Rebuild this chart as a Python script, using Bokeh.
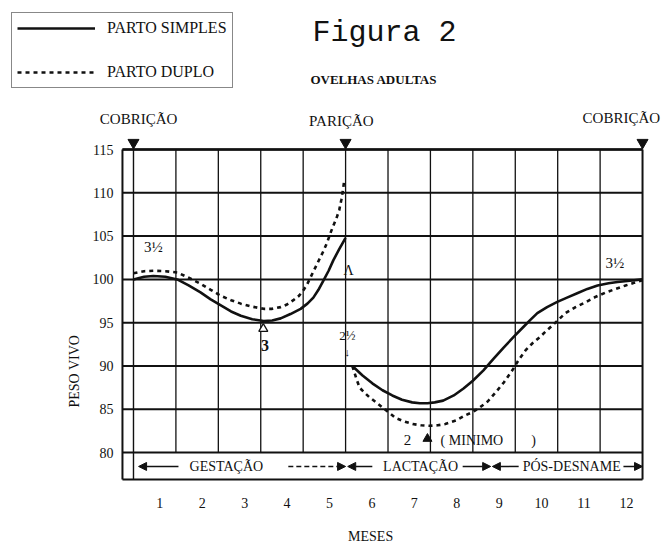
import math
from bokeh.plotting import figure
from bokeh.models import (Range1d, FixedTicker, Label, Legend, LegendItem, Arrow,
                          NormalHead, LinearAxis, CustomJSTickFormatter)
from bokeh.embed import file_html
from bokeh.resources import INLINE

# ---------------- data ----------------
months = list(range(1, 13))
month_labels = [str(m) for m in months]
y_ticks = [80, 85, 90, 95, 100, 105, 110, 115]

# Gestação (meses 0-5)
gest_x_simples = [0, 0.25, 0.47, 0.75, 1.03, 1.3, 1.58, 1.82, 2.06, 2.3, 2.53, 2.8, 3.07,
                  3.27, 3.47, 3.7, 3.94, 4.1, 4.24, 4.36, 4.48, 4.6, 4.71, 4.85, 5.0]
gest_y_simples = [100.0, 100.3, 100.4, 100.3, 100.0, 99.3, 98.5, 97.7, 97.0, 96.3, 95.8, 95.4, 95.2,
                  95.25, 95.5, 96.0, 96.6, 97.2, 97.9, 98.8, 99.9, 101.0, 102.2, 103.5, 104.8]

gest_x_duplo = [0, 0.25, 0.47, 0.75, 1.03, 1.3, 1.58, 1.82, 2.06, 2.3, 2.53, 2.8, 3.07, 3.27,
                3.47, 3.62, 3.77, 3.9, 4.0, 4.09, 4.17, 4.25, 4.33, 4.41, 4.48, 4.56, 4.64,
                4.71, 4.78, 4.85, 4.9, 4.94, 4.97]
gest_y_duplo = [100.7, 100.95, 101.0, 100.95, 100.8, 100.2, 99.5, 98.8, 98.1, 97.6, 97.2, 96.85, 96.6, 96.6,
                96.8, 97.1, 97.6, 98.1, 98.7, 99.4, 100.2, 101.0, 101.8, 102.6, 103.3, 104.2, 105.3,
                106.2, 107.0, 108.0, 109.2, 110.4, 111.5]

# Lactação + pós-desmame (meses 5-12)
lact_x_simples = [5.16, 5.4, 5.63, 5.87, 6.1, 6.33, 6.57, 6.75, 6.93, 7.1, 7.3, 7.55, 7.78, 8.0,
                  8.25, 8.48, 8.72, 8.95, 9.19, 9.35, 9.52, 9.75, 9.99, 10.22, 10.46, 10.7,
                  10.94, 11.2, 11.41, 11.7, 12.0]
lact_y_simples = [90.0, 88.9, 88.0, 87.2, 86.6, 86.1, 85.8, 85.7, 85.7, 85.8, 86.0, 86.6, 87.4, 88.3,
                  89.5, 90.8, 92.1, 93.3, 94.5, 95.3, 96.1, 96.8, 97.4, 97.9, 98.4, 98.9,
                  99.3, 99.55, 99.7, 99.85, 100.0]

lact_x_duplo = [5.16, 5.25, 5.33, 5.45, 5.56, 5.72, 5.87, 6.03, 6.18, 6.38, 6.58, 6.78, 6.98,
                7.17, 7.35, 7.6, 7.82, 8.0, 8.16, 8.35, 8.53, 8.73, 8.93, 9.08, 9.24, 9.4,
                9.57, 9.72, 9.88, 10.03, 10.18, 10.42, 10.67, 10.9, 11.14, 11.37, 11.6, 11.8, 12.0]
lact_y_duplo = [90.0, 88.6, 87.5, 86.9, 86.4, 85.8, 85.2, 84.6, 84.0, 83.6, 83.3, 83.15, 83.1,
                83.15, 83.3, 83.7, 84.3, 84.7, 85.2, 85.9, 86.9, 88.1, 89.5, 90.7, 91.8, 92.6,
                93.3, 94.0, 94.7, 95.4, 96.1, 96.8, 97.4, 98.0, 98.5, 98.9, 99.3, 99.6, 99.9]

event_x = [0, 5, 12]
event_labels = ["COBRIÇÃO", "PARIÇÃO", "COBRIÇÃO"]
phase_labels = ["GESTAÇÃO", "LACTAÇÃO", "PÓS-DESNAME"]
series_names = ["PARTO SIMPLES", "PARTO DUPLO"]

SERIF = "Liberation Serif"
INK = "#111111"

# ---------------- figure (frame = whole canvas) ----------------
W, H = 666, 546
p = figure(width=W, height=H, output_backend="svg", toolbar_location=None, title=None,
           x_range=Range1d(-3.135, 12.565), y_range=Range1d(69.157, 132.206),
           min_border_left=0, min_border_right=0, min_border_top=0, min_border_bottom=0,
           x_axis_type=None, y_axis_type=None)
p.outline_line_color = None
p.xgrid.visible = False
p.ygrid.visible = False
p.background_fill_color = "white"
p.border_fill_color = "white"

LEFT, RIGHT, BAND_BOTTOM = -0.26, 12.0, 76.9

yaxis = LinearAxis(ticker=FixedTicker(ticks=y_ticks), fixed_location=LEFT)
yaxis.axis_line_color = None
yaxis.major_tick_line_color = None
yaxis.minor_tick_line_color = None
yaxis.major_label_standoff = 3
yaxis.major_label_text_font = SERIF
yaxis.major_label_text_font_size = "14px"
yaxis.major_label_text_color = INK
p.add_layout(yaxis, "left")

xticks = [round(m - 0.38, 2) for m in months]
xaxis = LinearAxis(ticker=FixedTicker(ticks=xticks), fixed_location=BAND_BOTTOM,
                   formatter=CustomJSTickFormatter(args=dict(labels=month_labels),
                                                   code="return labels[index]"))
xaxis.axis_line_color = None
xaxis.major_tick_line_color = None
xaxis.minor_tick_line_color = None
xaxis.major_label_standoff = 13
xaxis.major_label_text_font = SERIF
xaxis.major_label_text_font_size = "14px"
xaxis.major_label_text_color = INK
p.add_layout(xaxis, "below")

# grid / frame lines
p.segment(x0=[LEFT] * len(y_ticks), y0=y_ticks, x1=[RIGHT] * len(y_ticks), y1=y_ticks,
          line_color=INK, line_width=2)
p.segment(x0=[LEFT], y0=[115], x1=[RIGHT], y1=[115], line_color=INK, line_width=2.5)
inner = list(range(1, 12))
p.segment(x0=inner, y0=[80] * len(inner), x1=inner, y1=[115] * len(inner),
          line_color=INK, line_width=1.3)
p.segment(x0=[0, LEFT, RIGHT, LEFT], y0=[BAND_BOTTOM, BAND_BOTTOM, BAND_BOTTOM, BAND_BOTTOM],
          x1=[0, LEFT, RIGHT, RIGHT], y1=[115, 115, 115, BAND_BOTTOM],
          line_color=INK, line_width=[1.4, 2, 2, 2])

# curves
r1 = p.line(gest_x_simples, gest_y_simples, line_color=INK, line_width=2.6)
r2 = p.line(gest_x_duplo, gest_y_duplo, line_color=INK, line_width=2.6, line_dash="4 4")
p.line(lact_x_simples, lact_y_simples, line_color=INK, line_width=2.6)
p.line(lact_x_duplo, lact_y_duplo, line_color=INK, line_width=2.6, line_dash="4 4")

# event markers
p.scatter(x=event_x, y=[115.8] * 3, marker="inverted_triangle", size=11, color=INK)
p.scatter(x=[3.06], y=[94.3], marker="triangle", size=9, fill_color="white",
          line_color=INK, line_width=1.3)
p.scatter(x=[6.93], y=[81.6], marker="triangle", size=9, color=INK)


def lab(text, x, y, size="15px", align="center", font=SERIF, style="normal", angle=0.0,
        baseline="middle"):
    p.add_layout(Label(x=x, y=y, x_units="data", y_units="data", text=text,
                       text_align=align, text_baseline=baseline, text_font=font,
                       text_font_size=size, text_font_style=style, text_color=INK,
                       angle=angle))


lab("Figura 2", 4.22, 128.5, size="30px", align="left", font="Liberation Mono")
lab("OVELHAS ADULTAS", 4.17, 123.1, size="13px", align="left", style="bold")
lab(event_labels[0], 0.12, 118.5)
lab(event_labels[1], 4.9, 118.3)
lab(event_labels[2], 11.5, 118.6)
lab("3½", 0.47, 103.7)
lab("3½", 11.35, 101.9)
lab("Λ", 5.07, 101.0, size="14px")
lab("3", 3.1, 92.4, size="16px", style="bold")
lab("2½", 5.04, 93.5, size="13px")
lab("↓", 5.04, 91.6, size="11px")
lab("2", 6.46, 81.4, size="15px")
lab("( MINIMO", 7.24, 81.4, size="14px", align="left")
lab(")", 9.43, 81.4, size="14px")
lab(phase_labels[0], 2.19, 78.4, size="14px")
lab(phase_labels[1], 6.77, 78.4, size="14px")
lab(phase_labels[2], 10.33, 78.4, size="14px")
lab("PESO VIVO", -1.39, 89.4, size="14px", angle=math.pi / 2)
lab("MESES", 5.59, 70.3, size="14px")

# phase arrows in the band
for xs, xe, dash in [(1.06, 0.12, "solid"), (3.65, 5.0, "5 3"), (5.63, 5.05, "solid"),
                     (7.76, 8.42, "solid"), (9.08, 8.46, "solid"), (11.55, 12.0, "solid")]:
    p.add_layout(Arrow(end=NormalHead(size=8, fill_color=INK, line_color=INK),
                       x_start=xs, y_start=78.4, x_end=xe, y_end=78.4,
                       line_color=INK, line_width=1.5, line_dash=dash))

# legend box (top-left), location = bottom-left corner in screen px from frame bottom-left
legend = Legend(items=[LegendItem(label=series_names[0], renderers=[r1]),
                       LegendItem(label=series_names[1], renderers=[r2])],
                location=(11, 458), orientation="vertical", padding=5, spacing=24,
                glyph_width=78, glyph_height=20, label_height=20, label_standoff=12,
                label_text_font=SERIF, label_text_font_size="16px", label_text_color=INK,
                border_line_color=INK, border_line_width=1.5,
                background_fill_color="white", background_fill_alpha=1.0, margin=0)
p.add_layout(legend)

open("out.html", "w").write(file_html(p, INLINE))
